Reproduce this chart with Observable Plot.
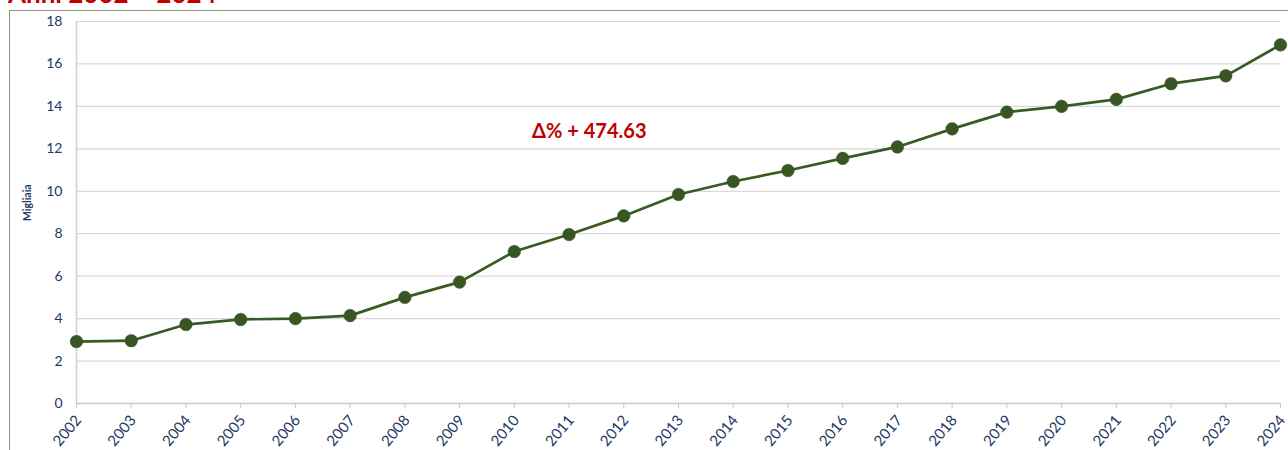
<!DOCTYPE html>
<html>
<head>
<meta charset="utf-8">
<script src="https://cdn.jsdelivr.net/npm/d3@7"></script>
<script src="https://cdn.jsdelivr.net/npm/@observablehq/plot@0.6"></script>
<style>
  body { margin: 0; background: #fff; }
  #wrap { position: relative; width: 1288px; height: 450px; overflow: hidden; font-family: Lato, "Open Sans", sans-serif; }
  #title { position: absolute; left: 8px; top: -23px; color: #c00000; font-weight: bold; font-size: 26px; white-space: nowrap; }
  #frame { position: absolute; left: 9px; top: 10px; right: -5px; bottom: -5px; border-left: 1.5px solid #8c9a7c; border-top: 1.5px solid #8c9a7c; }
  #chart { position: absolute; left: 0; top: 0; }
</style>
</head>
<body>
<div id="wrap">
  <div id="title">Anni 2002 – 2024</div>
  <div id="frame"></div>
  <div id="chart"></div>
</div>
<script>
const years = [2002,2003,2004,2005,2006,2007,2008,2009,2010,2011,2012,2013,2014,2015,2016,2017,2018,2019,2020,2021,2022,2023,2024];
const values = [2.92,2.96,3.72,3.96,4.00,4.14,5.00,5.72,7.16,7.96,8.84,9.85,10.46,10.98,11.55,12.09,12.94,13.73,14.00,14.33,15.07,15.44,16.90];
const yTicks = [0,2,4,6,8,10,12,14,16,18];
const yLabel = "Migliaia";
const annotation = "Δ% + 474.63";
const annotationPos = {x: 2011.37, y: 12.82};

const data = years.map((y, i) => ({year: y, value: values[i]}));

const chart = Plot.plot({
  width: 1288,
  height: 450,
  marginLeft: 76,
  marginRight: 8,
  marginTop: 21,
  marginBottom: 47,
  style: {fontFamily: "Lato, 'Open Sans', sans-serif", background: "transparent"},
  x: {domain: [2002, 2024], ticks: years, label: null},
  y: {domain: [0, 18], ticks: yTicks, label: null},
  marks: [
    Plot.gridY(yTicks, {stroke: "#d9d9d9", strokeOpacity: 1, strokeWidth: 1.2}),
    Plot.ruleX([2002], {stroke: "#d0d0d0", strokeWidth: 1.5}),
    Plot.ruleY([0], {stroke: "#c8c8c8", strokeWidth: 1.5}),
    Plot.axisX({ticks: years, tickFormat: () => "", tickSize: 5, stroke: "#c8c8c8", label: null}),
    Plot.text(years, {x: d => d, y: 0, text: d => String(d), rotate: -50, textAnchor: "end", lineAnchor: "middle", dx: 2, dy: 14, fill: "#1f3864", fontSize: 15}),
    Plot.axisY({ticks: yTicks, tickSize: 0, tickPadding: 14, fill: "#1f3864", fontSize: 14, label: null}),
    Plot.text([yLabel], {frameAnchor: "left", y: 8.6, dx: -49, rotate: -90, text: d => d, fill: "#1f3864", fontSize: 10.5, fontWeight: "bold"}),
    Plot.line(data, {x: "year", y: "value", stroke: "#3a5a24", strokeWidth: 2.7}),
    Plot.dot(data, {x: "year", y: "value", r: 6.3, fill: "#375623", stroke: "#375623", strokeWidth: 0.5}),
    Plot.text([annotation], {x: annotationPos.x, y: annotationPos.y, text: d => d, fill: "#c00000", fontSize: 20, fontWeight: "bold"})
  ]
});
document.getElementById("chart").appendChild(chart);
</script>
</body>
</html>
